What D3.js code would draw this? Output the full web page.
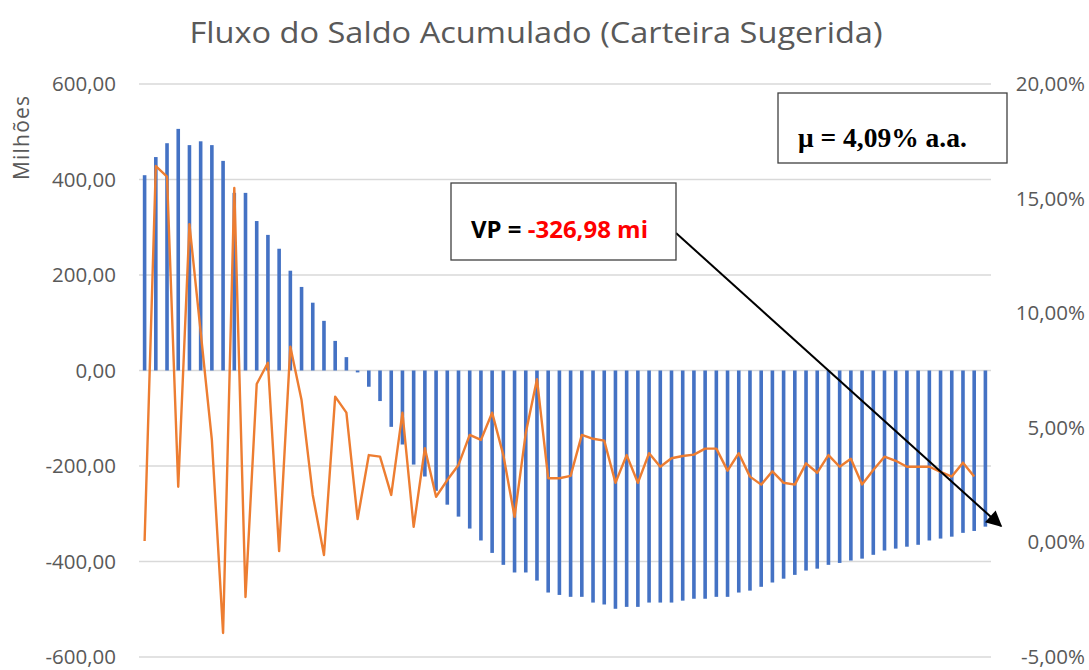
<!DOCTYPE html>
<html lang="pt">
<head>
<meta charset="utf-8">
<title>Fluxo do Saldo Acumulado</title>
<script src="https://d3js.org/d3.v7.min.js"></script>
<style>
  body { margin: 0; background: #fff; }
  svg text { font-family: "Open Sans", sans-serif; }
</style>
</head>
<body>
<div id="chart"></div>
<script>
// periodos (um por barra)
var periodos = d3.range(1, 77);

// saldo acumulado, em milhoes
var saldo = [
  409, 447, 476, 506, 472, 480, 472, 439, 372, 372,
  313, 284, 255, 209, 175, 142, 104, 62, 28, -4,
  -34, -64, -118, -155, -197, -222, -252, -281, -306, -331,
  -356, -382, -407, -423, -423, -440, -465, -470, -474, -474,
  -486, -490, -499, -495, -495, -486, -486, -486, -482, -478,
  -478, -474, -474, -465, -461, -453, -444, -436, -428, -419,
  -415, -407, -403, -398, -394, -386, -377, -373, -369, -365,
  -356, -352, -348, -340, -336, -327
];

// taxa (%), eixo da direita - ultima barra sem valor
var taxa = [
  0.06, 16.42, 15.96, 2.43, 13.88, 9.18, 4.47, -3.95, 15.46, -2.38,
  6.91, 7.84, -0.38, 8.54, 6.21, 2.07, -0.55, 6.36, 5.66, 1.02,
  3.81, 3.74, 2.07, 5.66, 0.68, 4.11, 1.99, 2.72, 3.38, 4.69,
  4.47, 5.66, 3.81, 1.12, 4.77, 7.12, 2.80, 2.80, 2.90, 4.69,
  4.52, 4.44, 2.60, 3.81, 2.60, 3.89, 3.30, 3.67, 3.77, 3.83,
  4.09, 4.09, 3.13, 3.89, 2.87, 2.52, 3.10, 2.60, 2.52, 3.45,
  3.04, 3.81, 3.30, 3.65, 2.53, 3.16, 3.74, 3.56, 3.30, 3.30,
  3.30, 3.08, 2.87, 3.48, 2.87, null
];

var ticksEsq = [-600, -400, -200, 0, 200, 400, 600];
var ticksDir = [-5, 0, 5, 10, 15, 20];

var width = 1089, height = 670;
var x0 = 139, x1 = 991, yTop = 84, yBot = 657;

var svg = d3.select("#chart").append("svg")
  .attr("width", width)
  .attr("height", height);

var x = d3.scaleBand().domain(periodos).range([x0, x1]);
var y = d3.scaleLinear().domain([-600, 600]).range([yBot, yTop]);
var y2 = d3.scaleLinear().domain([-5, 20]).range([yBot, yTop]);

// formato brasileiro, com hifen como sinal de menos
var br = d3.formatLocale({ decimal: ",", thousands: ".", grouping: [3], currency: ["R$", ""], minus: "-" });
var virgula = br.format(".2f");

// grade
svg.append("g").selectAll("line")
  .data(ticksEsq)
  .enter().append("line")
  .attr("x1", x0).attr("x2", x1)
  .attr("y1", function(d) { return y(d); })
  .attr("y2", function(d) { return y(d); })
  .attr("stroke", "#d9d9d9")
  .attr("stroke-width", 1.3);

// eixo esquerdo
var eixoEsq = d3.axisLeft(y).tickValues(ticksEsq).tickSize(0).tickPadding(0).tickFormat(virgula);
svg.append("g")
  .attr("transform", "translate(116,0)")
  .call(eixoEsq)
  .call(function(g) { g.select(".domain").remove(); })
  .selectAll("text")
  .attr("fill", "#595959")
  .style("font-size", "20.5px")
  .style("font-family", "Open Sans, sans-serif");

// eixo direito
var eixoDir = d3.axisRight(y2).tickValues(ticksDir).tickSize(0).tickPadding(0)
  .tickFormat(function(d) { return virgula(d) + "%"; });
svg.append("g")
  .attr("transform", "translate(1085,0)")
  .call(eixoDir)
  .call(function(g) { g.select(".domain").remove(); })
  .selectAll("text")
  .attr("text-anchor", "end")
  .attr("fill", "#595959")
  .style("font-size", "20.5px")
  .style("font-family", "Open Sans, sans-serif");

svg.append("text")
  .attr("transform", "translate(29,138) rotate(-90)")
  .attr("text-anchor", "middle")
  .attr("fill", "#595959")
  .style("font-size", "21px")
  .attr("textLength", 84)
  .attr("lengthAdjust", "spacing")
  .text("Milhões");

// barras
var bw = 3.6;
svg.append("g").selectAll("rect")
  .data(saldo)
  .enter().append("rect")
  .attr("x", function(d, i) { return x(periodos[i]) + x.bandwidth() / 2 - bw / 2; })
  .attr("y", function(d) { return y(Math.max(0, d)); })
  .attr("width", bw)
  .attr("height", function(d) { return Math.abs(y(d) - y(0)); })
  .attr("fill", "#4472c4");

// linha da taxa
var linha = d3.line()
  .defined(function(d) { return d != null; })
  .x(function(d, i) { return x(periodos[i]) + x.bandwidth() / 2; })
  .y(function(d) { return y2(d); });

svg.append("path")
  .datum(taxa)
  .attr("d", linha)
  .attr("fill", "none")
  .attr("stroke", "#ed7d31")
  .attr("stroke-width", 2.4)
  .attr("stroke-linejoin", "round");

// titulo
svg.append("text")
  .attr("x", 536).attr("y", 43)
  .attr("text-anchor", "middle")
  .attr("fill", "#595959")
  .style("font-size", "30px")
  .attr("textLength", 693)
  .attr("lengthAdjust", "spacingAndGlyphs")
  .text("Fluxo do Saldo Acumulado (Carteira Sugerida)");

// seta
svg.append("defs").append("marker")
  .attr("id", "ponta")
  .attr("viewBox", "0 0 10 10")
  .attr("refX", 9).attr("refY", 5)
  .attr("markerWidth", 10).attr("markerHeight", 8)
  .attr("markerUnits", "strokeWidth")
  .attr("orient", "auto")
  .append("path").attr("d", "M0,0 L10,5 L0,10 Z").attr("fill", "#000");

svg.append("line")
  .attr("x1", 676).attr("y1", 233)
  .attr("x2", 1001).attr("y2", 526)
  .attr("stroke", "#000")
  .attr("stroke-width", 2)
  .attr("marker-end", "url(#ponta)");

// caixa VP
svg.append("rect")
  .attr("x", 451).attr("y", 183)
  .attr("width", 225).attr("height", 77)
  .attr("fill", "#fff").attr("stroke", "#404040").attr("stroke-width", 1.3);

var vp = svg.append("text")
  .attr("x", 471).attr("y", 238)
  .style("font-size", "21px")
  .style("font-weight", "bold");
vp.append("tspan").attr("fill", "#000").text("VP = ");
vp.append("tspan").attr("fill", "#ff0000").text("-326,98 mi");
var wvp = vp.node().getComputedTextLength();
vp.style("font-size", (21 * 177 / wvp) + "px");

// caixa mu
svg.append("rect")
  .attr("x", 778).attr("y", 93)
  .attr("width", 229).attr("height", 70)
  .attr("fill", "#fff").attr("stroke", "#404040").attr("stroke-width", 1.3);

var mu = svg.append("text")
  .attr("x", 798).attr("y", 147)
  .style("font-family", "Liberation Serif, serif")
  .style("font-size", "22px")
  .style("font-weight", "bold")
  .attr("fill", "#000")
  .text("μ = 4,09% a.a.");
var wmu = mu.node().getComputedTextLength();
mu.style("font-size", (22 * 169 / wmu) + "px");
</script>
</body>
</html>
